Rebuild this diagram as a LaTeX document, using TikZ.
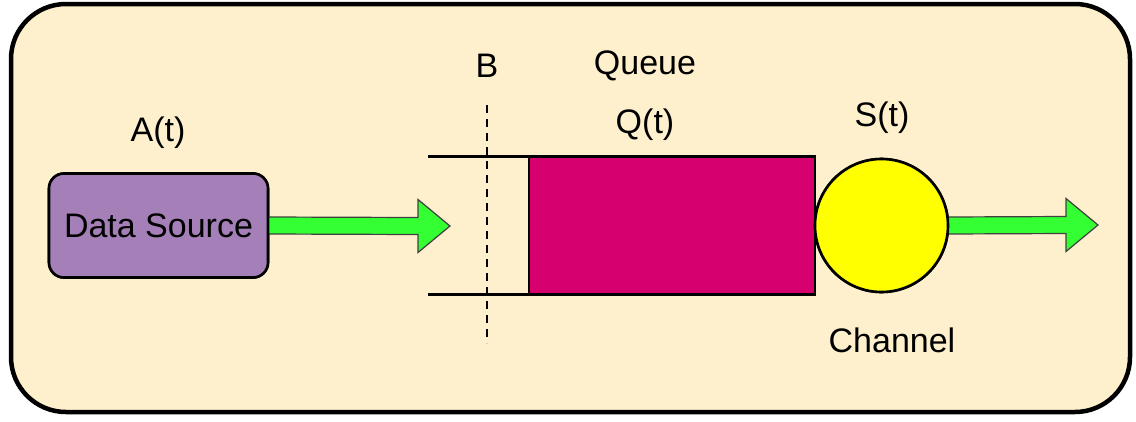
\documentclass[tikz,border=0pt]{standalone}
\usepackage{fontspec}
\setmainfont{Liberation Sans}
\usetikzlibrary{calc}
\definecolor{panel}{HTML}{FEF0CD}
\definecolor{srcfill}{HTML}{A57FB8}
\definecolor{queuefill}{HTML}{D6006E}
\definecolor{chanfill}{HTML}{FFFF00}
\definecolor{flowfill}{HTML}{33FF33}
\tikzset{
  lbl/.style={font=\fontsize{34}{40}\selectfont, inner sep=0pt},
  srcbox/.style={draw, line width=2.6pt, fill=srcfill, rounded corners=15pt,
    minimum width=219pt, minimum height=104pt, inner sep=0pt, outer sep=0pt,
    font=\fontsize{34}{40}\selectfont},
  queuebox/.style={draw, line width=2.6pt, fill=queuefill,
    minimum width=286pt, minimum height=138pt, inner sep=0pt, outer sep=0pt},
  chan/.style={draw, line width=2.6pt, fill=chanfill, circle,
    minimum size=133pt, inner sep=0pt, outer sep=0pt},
  fatarrow/.style={draw=black!75, line width=1.2pt, fill=flowfill, line join=miter},
  wall/.style={line width=2.4pt},
  bline/.style={line width=2.4pt, dash pattern=on 8pt off 6pt},
}
\begin{document}
\begin{tikzpicture}[x=1pt,y=-1pt]
\useasboundingbox (0,0) rectangle (1136,421);
% outer panel
\draw[line width=4.5pt, fill=panel, rounded corners=55pt] (11,4) rectangle (1130,412);

% blocks
\node[srcbox] (src) at (158.5,225.5) {Data Source};
\node[queuebox] (q) at (672,225.5) {};
\node[chan] (ch) at (881.5,225.5) {};

% arrow tips
\coordinate (tipin) at (450,226);
\coordinate (tipout) at (1098,225);

% incoming flow
\draw[fatarrow] ([yshift=8.5pt]src.east) -- ([xshift=-32pt,yshift=8.5pt]tipin)
  -- ([xshift=-32pt,yshift=26.5pt]tipin) -- (tipin)
  -- ([xshift=-32pt,yshift=-26.5pt]tipin) -- ([xshift=-32pt,yshift=-8.5pt]tipin)
  -- ([yshift=-8.5pt]src.east);
% outgoing flow
\draw[fatarrow] ([yshift=8.5pt]ch.east) -- ([xshift=-32pt,yshift=8.5pt]tipout)
  -- ([xshift=-32pt,yshift=26.5pt]tipout) -- (tipout)
  -- ([xshift=-32pt,yshift=-26.5pt]tipout) -- ([xshift=-32pt,yshift=-8.5pt]tipout)
  -- ([yshift=-8.5pt]ch.east);
% redraw borders over arrow ends
\node[srcbox] at (src) {Data Source};
\node[chan] at (ch) {};

% queue walls
\coordinate (wtop) at (428,156.5);
\coordinate (wbot) at (428,294.5);
\draw[wall] (wtop) -- (q.north west);
\draw[wall] (wbot) -- (q.south west);

% buffer boundary
\coordinate (btop) at (487,105);
\coordinate (bbot) at (487,343);
\draw[bline] (btop) -- (bbot);

% labels
\node[lbl] (lB) at (487,66) {B};
\node[lbl] (lQueue) at (645,66) {Queue};
\node[lbl] (lQ) at (645,125) {Q(t)};
\node[lbl] (lA) at (158,133) {A(t)};
\node[lbl] (lS) at (882,118) {S(t)};
\node[lbl] (lCh) at (892,340) {Channel};
\end{tikzpicture}
\end{document}
